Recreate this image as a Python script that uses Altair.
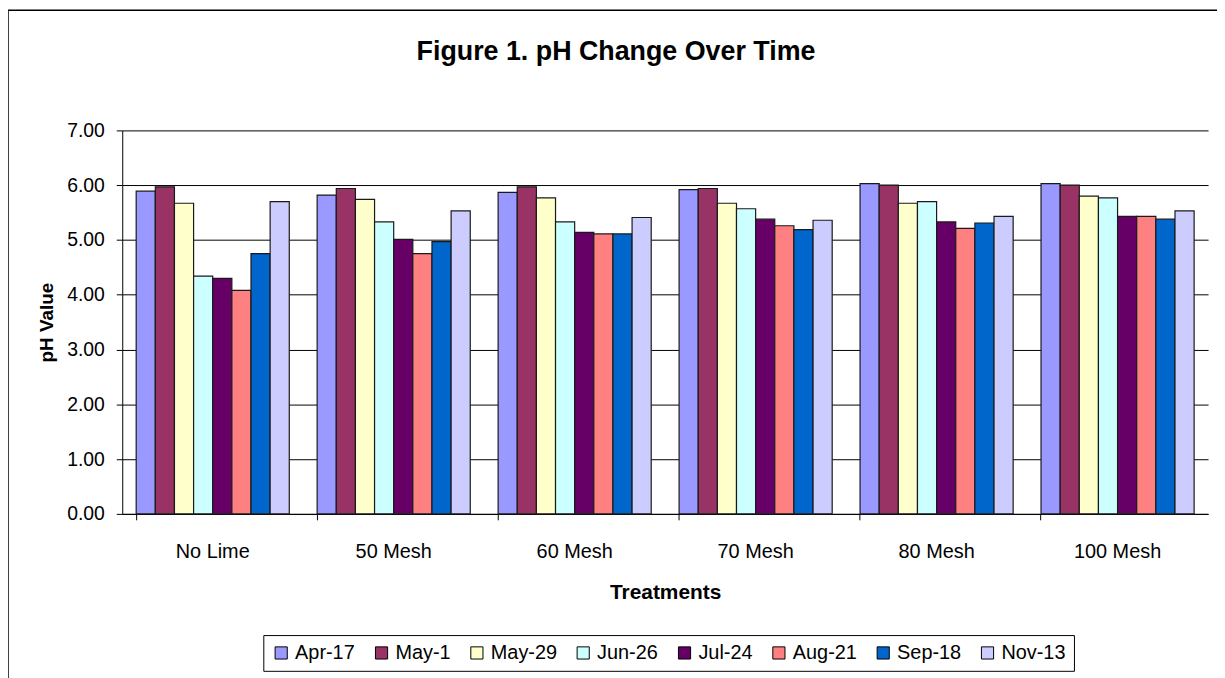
import altair as alt
import pandas as pd

treatments = ["No Lime", "50 Mesh", "60 Mesh", "70 Mesh", "80 Mesh", "100 Mesh"]
dates = ["Apr-17", "May-1", "May-29", "Jun-26", "Jul-24", "Aug-21", "Sep-18", "Nov-13"]
colors = ["#9999FF", "#993366", "#FFFFCC", "#CCFFFF", "#660066", "#FF8080", "#0066CC", "#CCCCFF"]

apr17 = [5.89, 5.82, 5.87, 5.92, 6.03, 6.03]
may1 = [5.97, 5.94, 5.97, 5.94, 6.00, 6.00]
may29 = [5.67, 5.74, 5.77, 5.67, 5.67, 5.80]
jun26 = [4.34, 5.33, 5.33, 5.57, 5.70, 5.77]
jul24 = [4.30, 5.01, 5.14, 5.38, 5.33, 5.43]
aug21 = [4.08, 4.75, 5.11, 5.26, 5.21, 5.43]
sep18 = [4.75, 4.97, 5.11, 5.19, 5.31, 5.38]
nov13 = [5.70, 5.53, 5.41, 5.36, 5.43, 5.53]

series = [apr17, may1, may29, jun26, jul24, aug21, sep18, nov13]
rows = []
for d, vals in zip(dates, series):
    for t, v in zip(treatments, vals):
        rows.append({"Treatment": t, "Date": d, "pH": v})
df = pd.DataFrame(rows)

FONT = "Liberation Sans"

bars = alt.Chart(df).mark_bar(stroke="#1a1a1a", strokeWidth=1.2).encode(
    x=alt.X("Treatment:N", sort=treatments,
            scale=alt.Scale(paddingInner=0.154, paddingOuter=0.077),
            axis=alt.Axis(title="Treatments", labelAngle=0, labelFontSize=20,
                          labelPadding=22, tickSize=6, bandPosition=0,
                          titleFontSize=21, titleFontWeight="bold", titlePadding=20,
                          domainColor="black", tickColor="black",
                          labelColor="black", titleColor="black", labelFont=FONT, titleFont=FONT)),
    xOffset=alt.XOffset("Date:N", sort=dates),
    y=alt.Y("pH:Q", scale=alt.Scale(domain=[0, 7]),
            axis=alt.Axis(title="pH Value", values=[0, 1, 2, 3, 4, 5, 6, 7], format=".2f",
                          labelFontSize=19.5, labelPadding=12, tickSize=6,
                          titleFontSize=19, titleFontWeight="bold", titlePadding=10,
                          gridColor="black", gridOpacity=1, domainColor="black", tickColor="black",
                          labelColor="black", titleColor="black", labelFont=FONT, titleFont=FONT)),
    color=alt.Color("Date:N", sort=dates, scale=alt.Scale(domain=dates, range=colors),
                    legend=alt.Legend(title=None, orient="none", direction="horizontal",
                                      columns=8, legendX=142, legendY=508,
                                      symbolType="square", symbolSize=150,
                                      symbolStrokeColor="black", symbolStrokeWidth=1,
                                      labelFontSize=20, labelFont=FONT, labelColor="black",
                                      columnPadding=16, labelOffset=4,
                                      strokeColor="black", padding=8)),
)

frame = alt.Chart(pd.DataFrame({"a": [0]})).mark_rect(
    fill=None, stroke="black", strokeWidth=1.5, clip=False
).encode(x=alt.value(-115), x2=alt.value(1130), y=alt.value(-121), y2=alt.value(600))

title = alt.Chart(pd.DataFrame({"t": ["Figure 1. pH Change Over Time"]})).mark_text(
    font=FONT, fontSize=27, fontWeight="bold", color="black", align="center", baseline="middle"
).encode(text="t:N", x=alt.value(497), y=alt.value(-79))

chart = alt.layer(bars, frame, title).properties(
    width=1093, height=386,
    padding={"left": 115, "top": 121, "right": 9, "bottom": 163},
    autosize=alt.AutoSizeParams(type="none"),
).configure_view(stroke=None).configure_axis(grid=False).configure_axisY(grid=True)

chart.save("out.html", embed_options={"renderer": "svg", "actions": False})
